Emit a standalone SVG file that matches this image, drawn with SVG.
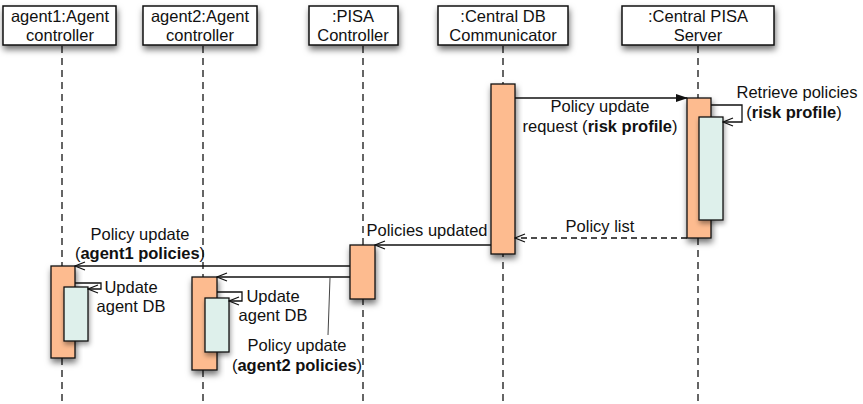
<svg xmlns="http://www.w3.org/2000/svg" width="863" height="404" viewBox="0 0 863 404">
<style>
text{font-family:"Liberation Sans",Arial,sans-serif;font-size:16.5px;fill:#111}
.c{text-anchor:middle}
.b{font-weight:bold}
.hdr{fill:#fff;stroke:#111;stroke-width:1.5}
.life{stroke:#333;stroke-width:1.5;stroke-dasharray:7 5;fill:none}
.act{fill:#FDBB8F;stroke:#111;stroke-width:1.3}
.inn{fill:#DEF0EB;stroke:#111;stroke-width:1.3}
.msg{stroke:#111;stroke-width:1.3;fill:none}
</style>
<defs>
<filter id="sh" x="-30%" y="-30%" width="160%" height="170%">
<feDropShadow dx="1" dy="4" stdDeviation="3" flood-color="#000" flood-opacity="0.55"/>
</filter>
<filter id="sh2" x="-30%" y="-30%" width="160%" height="170%">
<feDropShadow dx="1" dy="3" stdDeviation="2.5" flood-color="#000" flood-opacity="0.4"/>
</filter>
<marker id="open" viewBox="0 0 12 10" refX="11" refY="5" markerWidth="12" markerHeight="10" markerUnits="userSpaceOnUse" orient="auto">
<path d="M1,1 L11,5 L1,9" fill="none" stroke="#111" stroke-width="1.3"/>
</marker>
<marker id="fill" viewBox="0 0 12 10" refX="11" refY="5" markerWidth="12" markerHeight="10" markerUnits="userSpaceOnUse" orient="auto">
<path d="M0,1 L12,5 L0,9 Z" fill="#111"/>
</marker>
</defs>

<g id="lifelines">
<line class="life" x1="62" y1="46" x2="62" y2="404"/>
<line class="life" x1="203" y1="46" x2="203" y2="404"/>
<line class="life" x1="363" y1="46" x2="363" y2="404"/>
<line class="life" x1="503" y1="46" x2="503" y2="404"/>
<line class="life" x1="698" y1="46" x2="698" y2="404"/>
</g>

<g id="agent1">
<rect class="hdr" x="3" y="6" width="113" height="39" filter="url(#sh)"/>
<text class="c" x="60" y="22">agent1:Agent</text>
<text class="c" x="60" y="41">controller</text>
</g>
<g id="agent2">
<rect class="hdr" x="143" y="6" width="114" height="39" filter="url(#sh)"/>
<text class="c" x="200" y="22">agent2:Agent</text>
<text class="c" x="200" y="41">controller</text>
</g>
<g id="pisa">
<rect class="hdr" x="309" y="6" width="89" height="39" filter="url(#sh)"/>
<text class="c" x="353" y="22">:PISA</text>
<text class="c" x="353" y="41">Controller</text>
</g>
<g id="centraldb">
<rect class="hdr" x="438" y="6" width="130" height="39" filter="url(#sh)"/>
<text class="c" x="503" y="22">:Central DB</text>
<text class="c" x="503" y="41">Communicator</text>
</g>
<g id="centralpisa">
<rect class="hdr" x="622" y="6" width="152" height="39" filter="url(#sh)"/>
<text class="c" x="698" y="22">:Central PISA</text>
<text class="c" x="698" y="41">Server</text>
</g>

<g id="activations">
<rect id="act-db" class="act" x="491" y="84" width="24" height="170" filter="url(#sh)"/>
<rect id="act-server" class="act" x="687" y="98" width="24" height="140" filter="url(#sh)"/>
<rect id="inn-server" class="inn" x="699" y="117" width="24" height="103" filter="url(#sh2)"/>
<rect id="act-pisa" class="act" x="350" y="245" width="25" height="54" filter="url(#sh)"/>
<rect id="act-agent1" class="act" x="51" y="266" width="24" height="92" filter="url(#sh)"/>
<rect id="inn-agent1" class="inn" x="64" y="287" width="24" height="54" filter="url(#sh2)"/>
<rect id="act-agent2" class="act" x="192" y="277" width="25" height="93" filter="url(#sh)"/>
<rect id="inn-agent2" class="inn" x="205" y="298" width="24" height="54" filter="url(#sh2)"/>
</g>

<g id="connectors">
<line class="msg" x1="515" y1="98" x2="687" y2="98" marker-end="url(#fill)"/>
<polyline class="msg" points="711,105 742,105 742,122 723,122" marker-end="url(#open)"/>
<line class="msg" x1="687" y1="238" x2="515" y2="238" stroke-dasharray="6 4" marker-end="url(#open)"/>
<line class="msg" x1="491" y1="245" x2="375" y2="245" marker-end="url(#open)"/>
<line class="msg" x1="350" y1="266" x2="75" y2="266" marker-end="url(#open)"/>
<line class="msg" x1="350" y1="277" x2="217" y2="277" marker-end="url(#open)"/>
<polyline class="msg" points="75,283 101,283 101,289 88,289" marker-end="url(#open)"/>
<polyline class="msg" points="217,292 242,292 242,301 229,301" marker-end="url(#open)"/>
<line stroke="#444" stroke-width="1" x1="330" y1="278" x2="328" y2="335"/>
</g>

<g id="labels">
<text class="c" x="600" y="112">Policy update</text>
<text class="c" x="600" y="132">request (<tspan class="b">risk profile</tspan>)</text>
<text class="c" x="797" y="98">Retrieve policies</text>
<text class="c" x="794" y="118">(<tspan class="b">risk profile</tspan>)</text>
<text class="c" x="600" y="232">Policy list</text>
<text class="c" x="427" y="236">Policies updated</text>
<text class="c" x="140" y="240">Policy update</text>
<text class="c" x="140" y="259">(<tspan class="b">agent1 policies</tspan>)</text>
<text class="c" x="131" y="293">Update</text>
<text class="c" x="131" y="312">agent DB</text>
<text class="c" x="273" y="302">Update</text>
<text class="c" x="273" y="321">agent DB</text>
<text class="c" x="297" y="351">Policy update</text>
<text class="c" x="297" y="371">(<tspan class="b">agent2 policies</tspan>)</text>
</g>
</svg>
